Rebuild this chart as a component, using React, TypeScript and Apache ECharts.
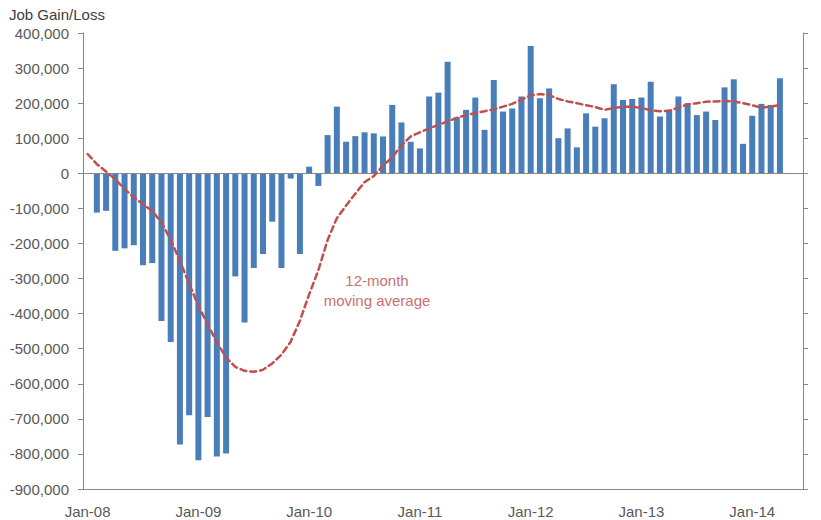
import React, { useEffect, useRef } from "react";
import * as echarts from "echarts";

// Monthly change in payroll employment, Jan-08 .. Jun-14 (no data after Apr-14)
const years = ["08", "09", "10", "11", "12", "13", "14"];
const monthNames = ["Jan", "Feb", "Mar", "Apr", "May", "Jun", "Jul", "Aug", "Sep", "Oct", "Nov", "Dec"];
const lastYearMonths = 6;

const months: string[] = [];
years.forEach((y, yi) => {
  const count = yi === years.length - 1 ? lastYearMonths : 12;
  for (let m = 0; m < count; m++) months.push(`${monthNames[m]}-${y}`);
});

const jobChange: (number | null)[] = [
  // 2008
  null, -112000, -107000, -221000, -214000, -205000, -262000, -256000, -421000, -481000, -773000, -690000,
  // 2009
  -818000, -695000, -807000, -799000, -294000, -425000, -270000, -230000, -138000, -270000, -15000, -230000,
  // 2010
  19000, -36000, 109000, 190000, 90000, 106000, 117000, 114000, 105000, 195000, 145000, 90000,
  // 2011
  71000, 219000, 230000, 318000, 160000, 181000, 216000, 124000, 266000, 176000, 185000, 219000,
  // 2012
  363000, 214000, 242000, 100000, 128000, 74000, 171000, 133000, 157000, 254000, 209000, 212000,
  // 2013
  216000, 261000, 162000, 181000, 219000, 200000, 166000, 176000, 152000, 245000, 268000, 84000,
  // 2014
  164000, 198000, 195000, 271000, null, null,
];

const movingAvg: (number | null)[] = [
  // 2008
  55000, 26000, 5000, -17000, -45000, -68000, -88000, -107000, -140000, -190000, -250000, -315000,
  // 2009
  -378000, -430000, -482000, -525000, -552000, -563000, -566000, -560000, -542000, -517000, -480000, -420000,
  // 2010
  -345000, -276000, -190000, -128000, -92000, -58000, -25000, -8000, 22000, 45000, 80000, 105000,
  // 2011
  117000, 128000, 138000, 148000, 158000, 166000, 172000, 177000, 183000, 190000, 198000, 210000,
  // 2012
  222000, 226000, 223000, 212000, 205000, 200000, 194000, 189000, 181000, 186000, 190000, 190000,
  // 2013
  186000, 180000, 177000, 178000, 188000, 196000, 200000, 204000, 205000, 206000, 205000, 200000,
  // 2014
  194000, 187000, 190000, 195000, null, null,
];

const yMin = -900000;
const yMax = 400000;
const yStep = 100000;

const FONT = '"Liberation Sans", Arial, sans-serif';
const AXIS_GREY = "#868686";
const TEXT_GREY = "#595959";

export default function App() {
  const ref = useRef<HTMLDivElement>(null);

  useEffect(() => {
    if (!ref.current) return;
    const chart = echarts.init(ref.current, undefined, { renderer: "svg" });

    const valueAxisBase = {
      type: "value" as const,
      min: yMin,
      max: yMax,
      interval: yStep,
      splitLine: { show: false },
      axisLine: { show: true, lineStyle: { color: AXIS_GREY, width: 1 } },
      axisTick: { show: true, inside: false, length: 5, lineStyle: { color: AXIS_GREY } },
    };

    chart.setOption({
      animation: false,
      backgroundColor: "#ffffff",
      grid: { left: 83, right: 18, top: 33, bottom: 31, containLabel: false },
      xAxis: {
        type: "category",
        data: months,
        boundaryGap: true,
        axisLine: { onZero: false, lineStyle: { color: AXIS_GREY, width: 1 } },
        axisTick: { interval: 11, inside: true, length: 5, lineStyle: { color: AXIS_GREY } },
        axisLabel: {
          interval: 11,
          color: TEXT_GREY,
          fontSize: 15,
          fontFamily: FONT,
          margin: 15,
        },
      },
      yAxis: [
        {
          ...valueAxisBase,
          position: "left",
          axisLabel: {
            color: TEXT_GREY,
            fontSize: 15,
            fontFamily: FONT,
            margin: 14,
            formatter: (v: number) => v.toLocaleString("en-US"),
          },
        },
        {
          ...valueAxisBase,
          position: "right",
          axisLabel: { show: false },
        },
      ],
      graphic: [
        {
          type: "text",
          left: 9,
          top: 7,
          style: { text: "Job Gain/Loss", fill: "#404040", font: `15px ${FONT}` },
        },
        {
          type: "text",
          x: 377,
          y: 270,
          style: {
            text: "12-month\nmoving average",
            fill: "#c8726f",
            font: `15px ${FONT}`,
            textAlign: "center",
            lineHeight: 20,
          },
        },
      ],
      series: [
        {
          type: "bar",
          data: jobChange,
          barWidth: 6,
          itemStyle: { color: "#4A7EBB" },
          markLine: {
            silent: true,
            symbol: "none",
            label: { show: false },
            lineStyle: { color: AXIS_GREY, type: "solid", width: 1 },
            data: [{ yAxis: 0 }],
          },
        },
        {
          type: "line",
          data: movingAvg,
          showSymbol: false,
          z: 5,
          lineStyle: { color: "#C0504D", width: 2.5, type: [6, 4], cap: "round" },
        },
      ],
    });

    return () => chart.dispose();
  }, []);

  return (
    <div
      ref={ref}
      style={{ position: "fixed", left: 0, top: 0, width: 821, height: 520, background: "#fff" }}
    />
  );
}
